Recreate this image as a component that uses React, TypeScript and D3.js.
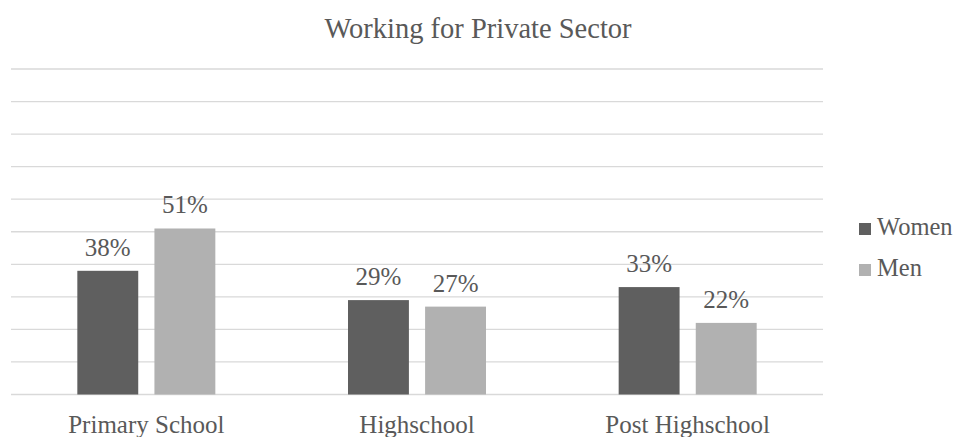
import React from "react";
import * as d3 from "d3";

const categories = ["Primary School", "Highschool", "Post Highschool"];
const seriesNames = ["Women", "Men"];
const womenValues = [38, 29, 33];
const menValues = [51, 27, 22];
const yTicks = [0, 10, 20, 30, 40, 50, 60, 70, 80, 90, 100];

const W = 959;
const H = 437;
const colors: Record<string, string> = { Women: "#5f5f5f", Men: "#b1b1b1" };
const textColor = "#595959";
const font = "Liberation Serif";

export default function App() {
  const x0 = d3.scaleBand<string>().domain(categories).range([11, 823]).padding(0);
  const y = d3.scaleLinear().domain([0, 100]).range([394.5, 69]);
  const groupW = 138;
  const x1 = d3.scaleBand<string>().domain(seriesNames).range([0, groupW]).paddingInner(0.21).paddingOuter(0);

  const data = categories.map((c, i) => ({
    cat: c,
    vals: [
      { s: "Women", v: womenValues[i] },
      { s: "Men", v: menValues[i] },
    ],
  }));

  const ts = { fontFamily: font };

  return (
    <svg width={W} height={H} style={{ position: "absolute", left: 0, top: 0, background: "#fff" }}>
      <text x={478} y={38} textAnchor="middle" fontSize={28.5} fill={textColor} style={ts}>
        Working for Private Sector
      </text>
      {yTicks.map((t) => (
        <line key={t} x1={11} x2={823} y1={y(t)} y2={y(t)} stroke="#d9d9d9" strokeWidth={1.3} />
      ))}
      {data.map((d) => {
        const cx = (x0(d.cat) as number) + x0.bandwidth() / 2;
        const gx = cx - groupW / 2;
        return (
          <g key={d.cat}>
            {d.vals.map((b) => {
              const bx = gx + (x1(b.s) as number);
              return (
                <g key={b.s}>
                  <rect x={bx} y={y(b.v)} width={x1.bandwidth()} height={y(0) - y(b.v)} fill={colors[b.s]} />
                  <text x={bx + x1.bandwidth() / 2} y={y(b.v) - 15} textAnchor="middle" fontSize={25} fill={textColor} style={ts}>
                    {b.v}%
                  </text>
                </g>
              );
            })}
            <text x={cx} y={433} textAnchor="middle" fontSize={25} fill={textColor} style={ts}>
              {d.cat}
            </text>
          </g>
        );
      })}
      {seriesNames.map((s, i) => (
        <g key={s} transform={`translate(859, ${223 + i * 41})`}>
          <rect x={0} y={0} width={12} height={12} fill={colors[s]} />
          <text x={18} y={11.5} fontSize={24.5} fill={textColor} style={ts}>
            {s}
          </text>
        </g>
      ))}
    </svg>
  );
}
